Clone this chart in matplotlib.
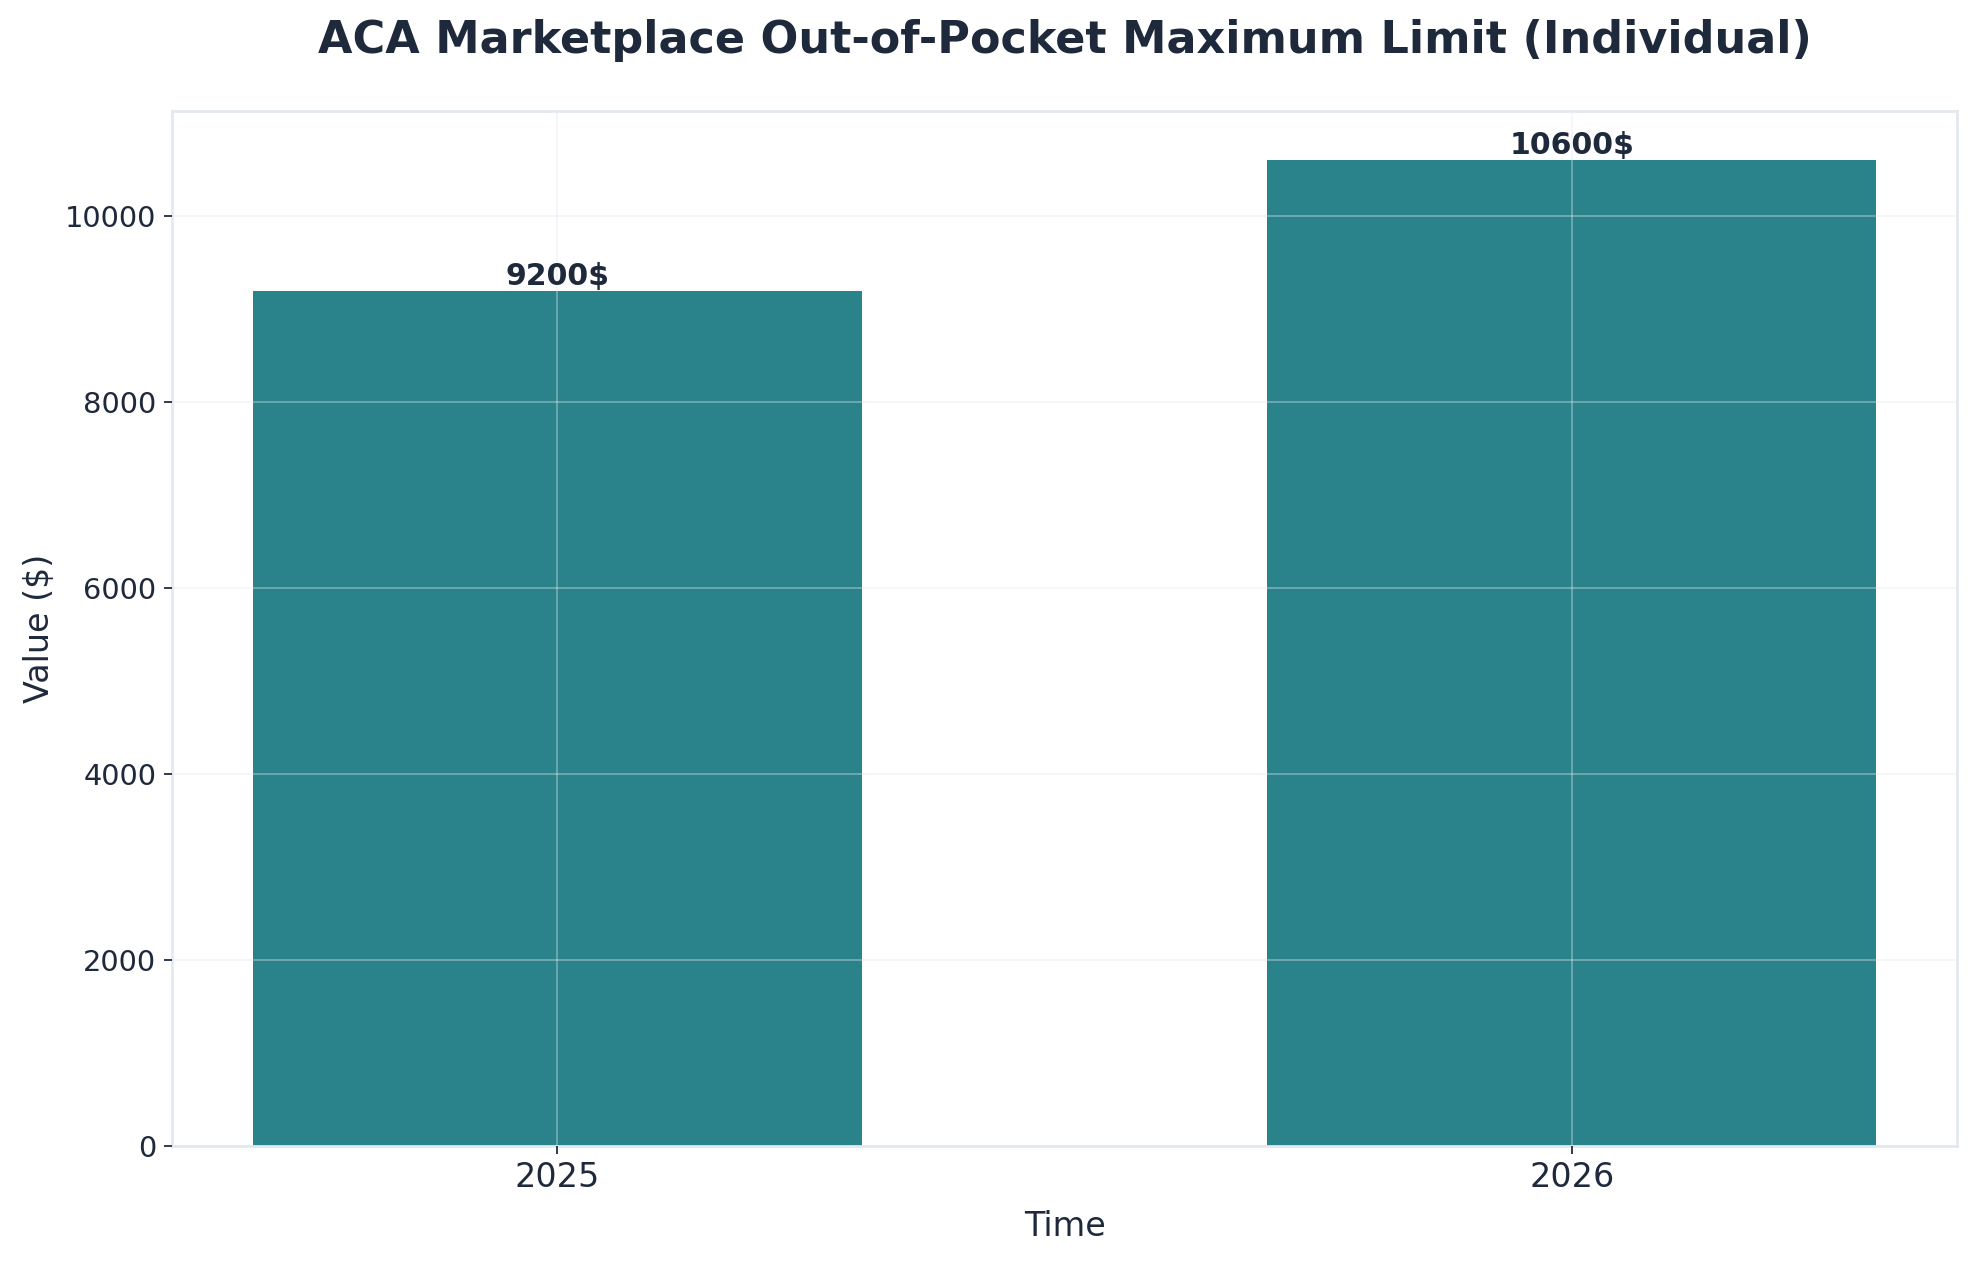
import matplotlib
matplotlib.use("Agg")
import matplotlib.pyplot as plt

# data
years = ["2025", "2026"]
values = [9200, 10600]

TEXT = "#1e293b"
SPINE = "#e2e8f0"
BAR = "#2a838a"

fig, ax = plt.subplots(figsize=(1977 / 160, 1263 / 160), dpi=160)

bars = ax.bar(years, values, width=0.6, color=BAR)

for b, v in zip(bars, values):
    ax.text(b.get_x() + b.get_width() / 2, v, f"{v}$",
            ha="center", va="bottom", fontsize=13.5, fontweight="bold", color=TEXT)

ax.set_title("ACA Marketplace Out-of-Pocket Maximum Limit (Individual)",
             fontsize=20, fontweight="bold", color=TEXT, pad=26)
ax.set_xlabel("Time", fontsize=15, color=TEXT, labelpad=7)
ax.set_ylabel("Value ($)", fontsize=15, color=TEXT)

ax.tick_params(axis="x", labelsize=15, colors=TEXT)
ax.tick_params(axis="y", labelsize=13, colors=TEXT)

ax.grid(True, color=SPINE, alpha=0.4, linewidth=0.8)
ax.set_axisbelow(False)
for s in ax.spines.values():
    s.set_color(SPINE)
    s.set_linewidth(1.2)

fig.subplots_adjust(left=0.087, right=0.99, top=0.912, bottom=0.093)
fig.savefig("out.png", dpi=160)
